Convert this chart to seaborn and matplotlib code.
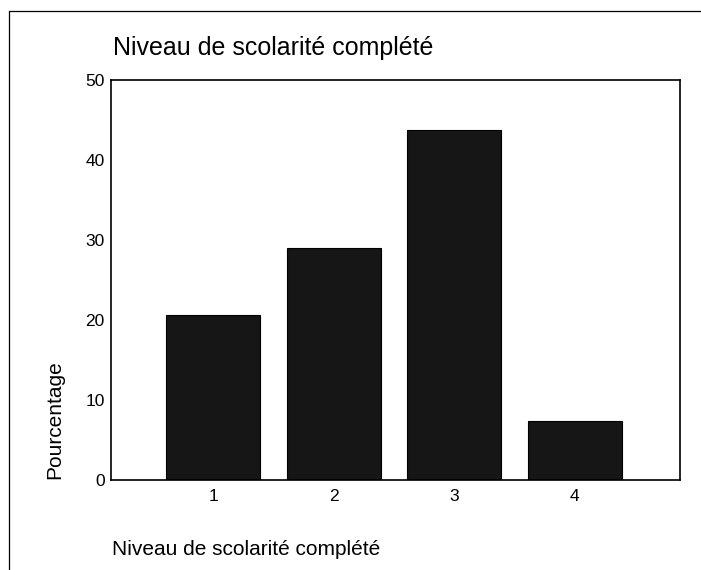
import matplotlib
matplotlib.use("Agg")
import matplotlib.pyplot as plt
import seaborn as sns
import pandas as pd
from matplotlib.lines import Line2D

categories = ["1", "2", "3", "4"]
percentages = [20.6, 29.0, 43.8, 7.4]
y_ticks = [0, 10, 20, 30, 40, 50]

sns.set_style("white")
plt.rcParams["font.family"] = ["Liberation Sans", "DejaVu Sans"]
plt.rcParams["text.color"] = "black"

df = pd.DataFrame({"niveau": categories, "pct": percentages})

fig = plt.figure(figsize=(7.01, 5.70), dpi=100)
ax = fig.add_axes([111 / 701, 90 / 570, 569 / 701, 400 / 570])

sns.barplot(data=df, x="niveau", y="pct", color="#161616", edgecolor="black",
            linewidth=0.8, width=0.78, saturation=1, ax=ax)

ax.set_xlim(-0.85, 3.875)
ax.set_ylim(0, 50)
ax.set_yticks(y_ticks)
ax.set_xlabel("")
ax.set_ylabel("")
for s in ax.spines.values():
    s.set_visible(True)
    s.set_color("black")
    s.set_linewidth(1.2)
ax.tick_params(axis="both", which="both", direction="out", length=2.5, width=1.5,
               color="black", labelsize=12.5, labelcolor="black")
ax.tick_params(axis="x", pad=4)
ax.tick_params(axis="y", pad=2)

fig.text(113 / 701, (570 - 55) / 570, "Niveau de scolarité complété",
         fontsize=18, ha="left", va="baseline")
fig.text(112 / 701, (570 - 555) / 570, "Niveau de scolarité complété",
         fontsize=15, ha="left", va="baseline")
fig.text(55 / 701, (570 - 420) / 570, "Pourcentage", fontsize=15,
         rotation=90, ha="center", va="center")

# page frame (only top and left edges visible in the scan)
fig.add_artist(Line2D([9 / 701, 1], [(570 - 11) / 570] * 2, color="black",
                      linewidth=0.9, transform=fig.transFigure))
fig.add_artist(Line2D([9 / 701] * 2, [0, (570 - 11) / 570], color="black",
                      linewidth=0.9, transform=fig.transFigure))

fig.savefig("out.png", dpi=100)
plt.close(fig)
